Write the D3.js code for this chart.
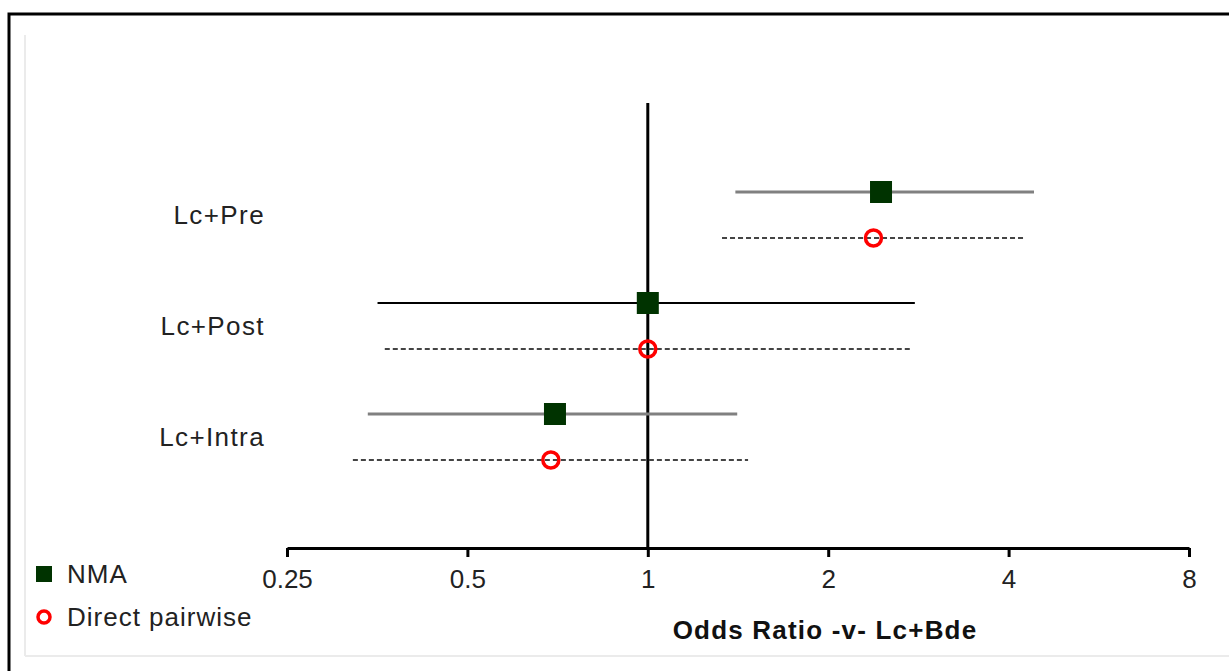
<!DOCTYPE html>
<html>
<head>
<meta charset="utf-8" />
<title>Odds Ratio forest plot</title>
<style type="text/css">
body{
	margin:0;
	background:#fff;
	font-family:"Liberation Sans", Arial, sans-serif;
}
</style>
<script src="https://d3js.org/d3.v7.min.js"></script>
</head>
<body>
<div id="chart"></div>
<script>
	// data
	var categories = ["Lc+Pre", "Lc+Post", "Lc+Intra"];
	var nmaOR   = [2.45, 1.00, 0.70];
	var nmaLow  = [1.40, 0.354, 0.341];
	var nmaHigh = [4.41, 2.79, 1.41];
	var dirOR   = [2.38, 1.00, 0.689];
	var dirLow  = [1.33, 0.364, 0.322];
	var dirHigh = [4.26, 2.76, 1.47];
	var tickValues = [0.25, 0.5, 1, 2, 4, 8];
	var tickLabels = ["0.25", "0.5", "1", "2", "4", "8"];
	var legendLabels = ["NMA", "Direct pairwise"];

	var W = 1229, H = 671;
	var svg = d3.select("#chart").append("svg")
		.attr("width", W).attr("height", H);

	//外框
	svg.append("rect")
		.attr("x", 9).attr("y", 14)
		.attr("width", 1230).attr("height", 700)
		.attr("fill", "none").attr("stroke", "#000").attr("stroke-width", 3);
	svg.append("line")
		.attr("x1", 25).attr("y1", 35).attr("x2", 25).attr("y2", 656)
		.attr("stroke", "#ebebeb").attr("stroke-width", 2);
	svg.append("line")
		.attr("x1", 25).attr("y1", 656).attr("x2", W).attr("y2", 656)
		.attr("stroke", "#ebebeb").attr("stroke-width", 2);

	var x = d3.scaleLog().base(2).domain([0.25, 8]).range([287, 1189]);
	var y = d3.scalePoint().domain(categories).range([215, 437]);
	var off = 23;
	var axisY = 548;

	//參考線 OR=1
	svg.append("line")
		.attr("x1", x(1)).attr("x2", x(1))
		.attr("y1", 103).attr("y2", axisY)
		.attr("stroke", "#000").attr("stroke-width", 3);

	//x軸
	var axis = d3.axisBottom(x)
		.tickValues(tickValues)
		.tickFormat(function(d, i){ return tickLabels[i]; })
		.tickSize(9).tickSizeOuter(0);
	var gx = svg.append("g")
		.attr("transform", "translate(0," + axisY + ")")
		.call(axis);
	gx.select(".domain").attr("stroke", "#000").attr("stroke-width", 3);
	gx.selectAll(".tick line").attr("stroke", "#000").attr("stroke-width", 3);
	gx.selectAll(".tick text")
		.attr("y", 22).attr("dy", "0.71em")
		.attr("fill", "#222")
		.style("font-family", "Liberation Sans, Arial, sans-serif")
		.style("font-size", "26px");

	svg.append("text")
		.attr("x", 825).attr("y", 639)
		.attr("text-anchor", "middle")
		.style("font-size", "26px").style("font-weight", "bold")
		.style("letter-spacing", "1.2px")
		.attr("fill", "#111")
		.text("Odds Ratio -v- Lc+Bde");

	//類別
	svg.selectAll(".cat").data(categories).enter().append("text")
		.attr("class", "cat")
		.attr("x", 265)
		.attr("y", function(d){ return y(d) + 9; })
		.attr("text-anchor", "end")
		.style("font-size", "26px")
		.style("letter-spacing", "1.4px")
		.attr("fill", "#222")
		.text(function(d){ return d; });

	//NMA
	categories.forEach(function(c, i){
		var yy = y(c) - off;
		var thin = (c === "Lc+Post");
		svg.append("line")
			.attr("x1", x(nmaLow[i])).attr("x2", x(nmaHigh[i]))
			.attr("y1", yy).attr("y2", yy)
			.attr("stroke", thin ? "#000" : "#808080")
			.attr("stroke-width", thin ? 2 : 3);
		svg.append("rect")
			.attr("x", x(nmaOR[i]) - 11).attr("y", yy - 11)
			.attr("width", 22).attr("height", 22)
			.attr("fill", "#003300");
	});

	//Direct pairwise
	categories.forEach(function(c, i){
		var yy = y(c) + off;
		svg.append("line")
			.attr("x1", x(dirLow[i])).attr("x2", x(dirHigh[i]))
			.attr("y1", yy).attr("y2", yy)
			.attr("stroke", "#444")
			.attr("stroke-width", 2)
			.attr("stroke-dasharray", "5,3");
		svg.append("circle")
			.attr("cx", x(dirOR[i])).attr("cy", yy)
			.attr("r", 8)
			.attr("fill", "none")
			.attr("stroke", "#ff0000")
			.attr("stroke-width", 3.5);
	});

	//圖例
	svg.append("rect")
		.attr("x", 36).attr("y", 566)
		.attr("width", 16).attr("height", 16)
		.attr("fill", "#003300");
	svg.append("circle")
		.attr("cx", 44).attr("cy", 617).attr("r", 6)
		.attr("fill", "none").attr("stroke", "#ff0000").attr("stroke-width", 3.5);
	svg.selectAll(".leg").data(legendLabels).enter().append("text")
		.attr("class", "leg")
		.attr("x", 67)
		.attr("y", function(d, i){ return 583 + i * 43; })
		.style("font-size", "26px")
		.style("letter-spacing", "1px")
		.attr("fill", "#222")
		.text(function(d){ return d; });
</script>
</body>
</html>
